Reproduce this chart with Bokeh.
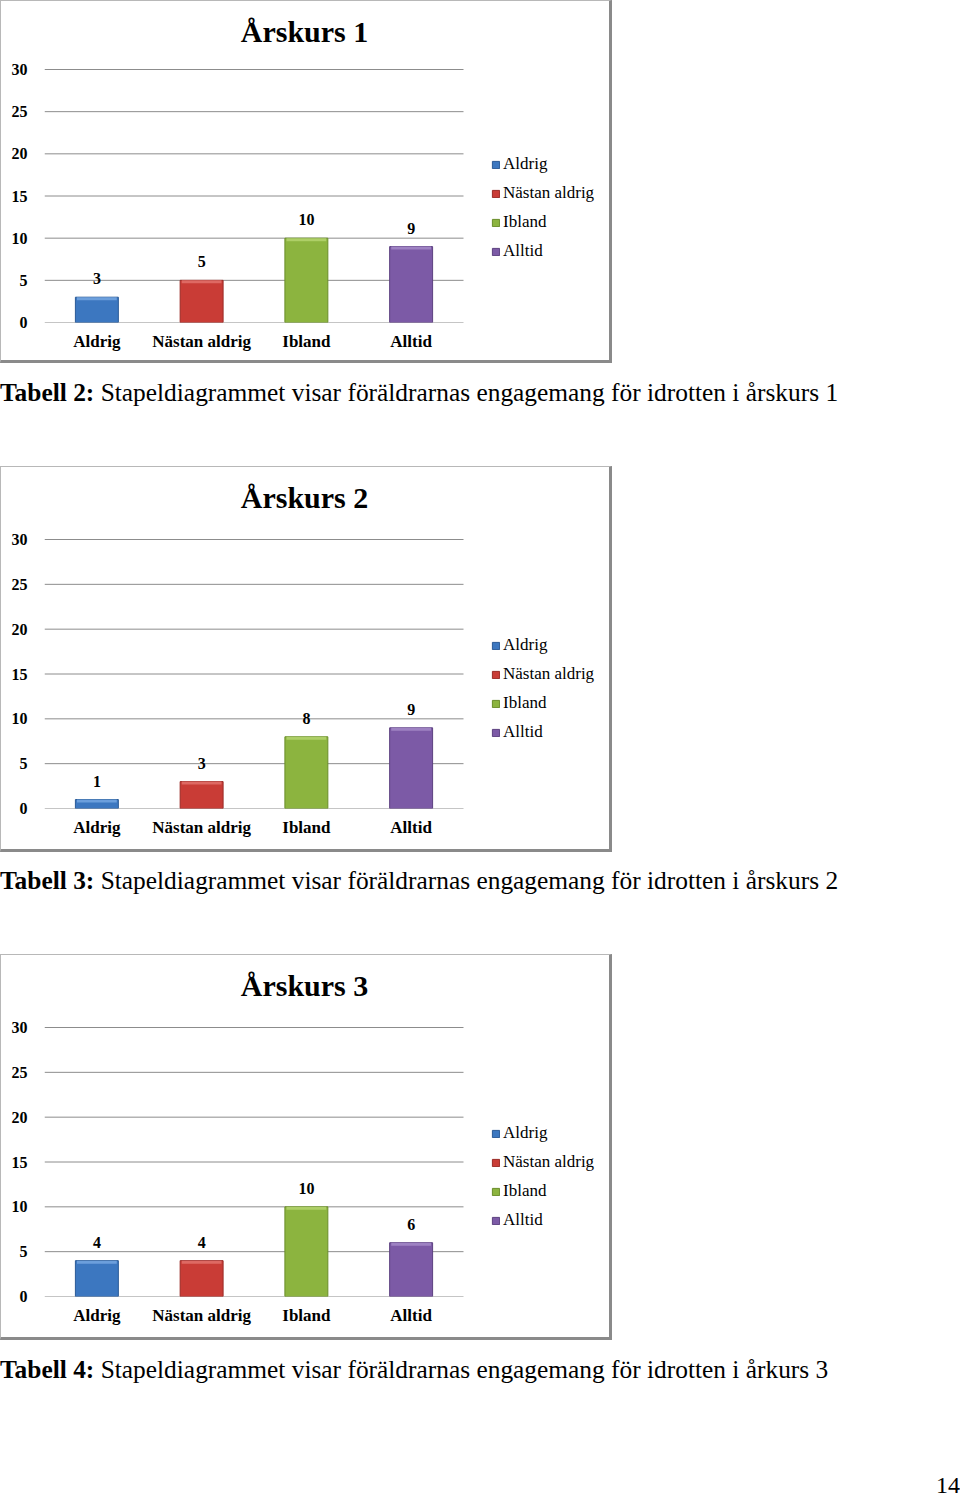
from bokeh.plotting import figure
from bokeh.models import (ColumnDataSource, LabelSet, Label, Legend, LegendItem, Div,
                          Range1d, FixedTicker)
from bokeh.layouts import column
from bokeh.embed import file_html
from bokeh.resources import INLINE

categories = ["Aldrig", "Nästan aldrig", "Ibland", "Alltid"]
bar_colors = ["#3c77c0", "#c93c36", "#8cb43f", "#7c5aa6"]
edge_colors = ["#2a5a96", "#9a2a26", "#6a8d2a", "#5c4080"]
light_colors = ["#74a6e0", "#e2716b", "#b4d46e", "#a58ac8"]
arskurs1 = [3, 5, 10, 9]
arskurs2 = [1, 3, 8, 9]
arskurs3 = [4, 4, 10, 6]
chart_titles = ["Årskurs 1", "Årskurs 2", "Årskurs 3"]
y_ticks = [0, 5, 10, 15, 20, 25, 30]
caption_heads = ["Tabell 2:", "Tabell 3:", "Tabell 4:"]
caption_texts = [
    "Stapeldiagrammet visar föräldrarnas engagemang för idrotten i årskurs 1",
    "Stapeldiagrammet visar föräldrarnas engagemang för idrotten i årskurs 2",
    "Stapeldiagrammet visar föräldrarnas engagemang för idrotten i årkurs 3",
]
page_number = "14"

SERIF = "Liberation Serif, Times New Roman, Times, serif"
W = 612
LEFT = 43            # frame left edge in px
PLOT_W = 419         # width of the category area in px
GRID = "#8c8c8c"


def make_chart(title, values, height, top30, bottom, legend_y):
    n = len(categories)
    ymax = max(y_ticks)
    frame_h = height - bottom
    y_end = ymax * frame_h / (frame_h - top30)
    px_per_unit = (frame_h - top30) / ymax
    cat_px = PLOT_W / n
    x_end = -0.5 + (W - LEFT) / cat_px

    xs = list(range(n))
    src = ColumnDataSource(dict(
        x=xs, val=values, color=bar_colors, edge=edge_colors, light=light_colors,
        hl_bottom=[v - 3.0 / px_per_unit for v in values],
        label=[str(v) for v in values],
    ))
    p = figure(
        x_range=Range1d(-0.5, x_end), y_range=Range1d(0, y_end),
        width=W, height=height, output_backend="svg", toolbar_location=None,
        min_border_left=LEFT, min_border_right=0, min_border_top=0,
        min_border_bottom=bottom,
    )
    p.background_fill_color = "white"
    p.border_fill_color = "white"
    p.outline_line_color = None
    p.xgrid.grid_line_color = None
    p.ygrid.grid_line_color = None

    # horizontal gridlines across the category area only
    p.segment(x0=[-0.5] * len(y_ticks), x1=[n - 0.5] * len(y_ticks),
              y0=y_ticks, y1=y_ticks, line_color=GRID, line_width=1)

    r = p.vbar(x="x", top="val", width=0.41, source=src,
               fill_color="color", line_color="edge", line_width=1)
    p.vbar(x="x", top="val", bottom="hl_bottom", width=0.38, source=src,
           fill_color="light", line_color=None, fill_alpha=0.85)

    labels = LabelSet(x="x", y="val", text="label", source=src,
                      text_align="center", text_baseline="bottom", y_offset=13,
                      text_font=SERIF, text_font_style="bold",
                      text_font_size="16px", text_color="#000000")
    p.add_layout(labels)

    # chart title (inside the tall frame)
    title_y = (frame_h - 30) / px_per_unit
    title_x = -0.5 + (303 - LEFT) / cat_px
    p.add_layout(Label(x=title_x, y=title_y, text=title, text_align="center",
                       text_baseline="middle", text_font=SERIF,
                       text_font_style="bold", text_font_size="30px",
                       text_color="#000000"))

    p.yaxis.ticker = FixedTicker(ticks=y_ticks)
    p.yaxis.axis_line_color = None
    p.yaxis.major_tick_line_color = None
    p.yaxis.minor_tick_line_color = None
    p.yaxis.major_label_standoff = 11
    p.yaxis.major_label_text_font = SERIF
    p.yaxis.major_label_text_font_style = "bold"
    p.yaxis.major_label_text_font_size = "16px"
    p.yaxis.major_label_text_color = "#000000"

    p.xaxis.ticker = FixedTicker(ticks=xs)
    p.xaxis.major_label_overrides = {i: c for i, c in enumerate(categories)}
    p.xaxis.axis_line_color = None
    p.xaxis.major_tick_line_color = None
    p.xaxis.minor_tick_line_color = None
    p.xaxis.major_label_standoff = 3
    p.xaxis.major_label_text_font = SERIF
    p.xaxis.major_label_text_font_style = "bold"
    p.xaxis.major_label_text_font_size = "17px"
    p.xaxis.major_label_text_color = "#000000"

    items = [LegendItem(label=c, renderers=[r], index=i) for i, c in enumerate(categories)]
    legend = Legend(items=items, location=(447, legend_y), glyph_width=9, glyph_height=9,
                    label_text_font=SERIF, label_text_font_size="17px",
                    label_text_color="#000000", label_standoff=3, spacing=9,
                    label_height=20, padding=0, margin=0,
                    border_line_color=None, background_fill_alpha=0)
    p.add_layout(legend)

    p.styles = {
        "border-top": "1px solid #b8b8b8",
        "border-left": "1px solid #b8b8b8",
        "border-right": "3px solid #8a8a8a",
        "border-bottom": "3px solid #8a8a8a",
        "box-sizing": "border-box",
    }
    return p


def caption_div(head, text, height, pad, extra=""):
    html = (f'<div style="font-family:{SERIF};font-size:25.4px;color:#000;'
            f'padding-top:{pad}px;white-space:nowrap;line-height:1.15">'
            f'<b>{head}</b> {text}</div>{extra}')
    return Div(text=html, width=960, height=height, styles={"margin": "0"})


p1 = make_chart(chart_titles[0], arskurs1, 363, 68, 42, 61)
p2 = make_chart(chart_titles[1], arskurs2, 386, 72, 45, 66)
p3 = make_chart(chart_titles[2], arskurs3, 386, 72, 45, 66)

num_html = (f'<div style="position:absolute;right:0px;top:133px;font-family:{SERIF};'
            f'font-size:24px;line-height:1;color:#000">{page_number}</div>')

d1 = caption_div(caption_heads[0], caption_texts[0], 103, 15)
d2 = caption_div(caption_heads[1], caption_texts[1], 102, 14)
d3 = caption_div(caption_heads[2], caption_texts[2], 157, 15, num_html)

layout = column(p1, d1, p2, d2, p3, d3, spacing=0)

open("out.html", "w").write(file_html(layout, INLINE))
